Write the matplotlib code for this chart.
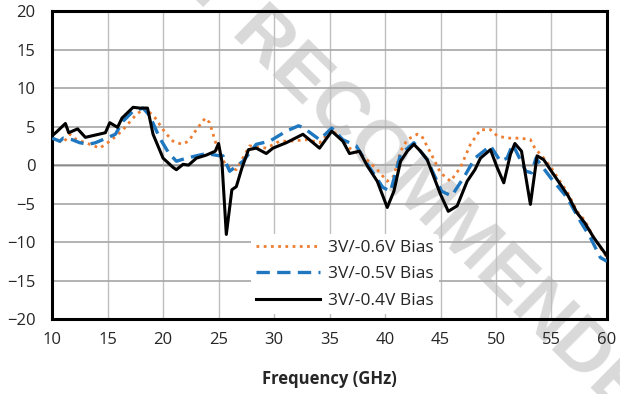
import matplotlib
matplotlib.use("Agg")
import matplotlib.pyplot as plt

# ---- data ----
f_06 = [10, 11, 11.6, 12.2, 13.4, 14.3, 15.2, 15.8, 16.4, 17.6, 18.4, 19.3, 20.2, 20.9, 21.7, 22.3, 23.0,
        23.8, 24.2, 24.7, 25.1, 25.7, 26.6, 27.8, 29.3, 30.5, 31.4, 33.0, 34.1, 35.2, 36.8, 38.0, 39.3,
        40.2, 40.8, 41.4, 42.0, 42.9, 43.3, 44.1, 45.0, 45.9, 46.8, 47.7, 48.6, 49.5, 50.1, 51.0, 51.9,
        52.2, 53.1, 53.5, 54.3, 55.0, 55.8, 56.5, 57.3, 58.0, 58.8, 60.0]
v_06 = [3.5, 2.9, 4.0, 3.3, 2.7, 2.2, 3.1, 3.8, 4.6, 6.6, 7.4, 6.1, 4.2, 3.1, 2.7, 3.1, 4.6,
        6.1, 5.5, 3.1, 1.4, -0.1, -0.6, 2.5, 2.2, 3.1, 3.1, 3.3, 2.9, 4.6, 2.2, 1.2, -0.6,
        -2.1, -1.4, 1.8, 3.3, 4.0, 3.8, 1.6, -1.0, -2.1, -0.3, 2.7, 4.6, 4.6, 3.8, 3.5, 3.5,
        3.5, 3.3, 2.2, 0.9, -0.4, -2.2, -3.7, -6.0, -7.2, -9.4, -12.0]

f_05 = [10, 10.7, 11.0, 11.8, 12.5, 13.3, 13.9, 14.9, 15.7, 16.4, 17.3, 18.2, 18.8, 19.7, 20.5, 21.2,
        22.1, 23.0, 23.9, 25.1, 25.4, 26.0, 27.2, 28.4, 29.6, 31.1, 32.2, 32.6, 34.1, 35.2, 36.2, 37.4,
        38.6, 39.8, 40.5, 41.4, 42.6, 43.8, 45.1, 46.0, 47.1, 48.1, 49.5, 50.4, 51.0, 51.5, 52.7, 53.2,
        53.6, 54.9, 56.4, 57.6, 58.5, 59.4, 60.0]
v_05 = [3.5, 3.1, 3.5, 3.3, 2.9, 2.7, 2.9, 3.5, 4.0, 5.7, 7.0, 7.4, 6.4, 3.5, 1.6, 0.5,
        0.9, 1.2, 1.5, 1.2, 1.2, -0.8, 0.5, 2.7, 3.1, 4.4, 5.1, 4.9, 3.3, 4.8, 3.3, 2.5,
        -0.3, -2.9, -3.4, 1.4, 2.9, 0.7, -3.4, -4.0, -1.6, 0.9, 2.5, 0.5, 0.9, 2.7, -0.8, -1.0,
        0.9, -1.6, -4.2, -7.3, -9.4, -12.0, -12.5]

f_04 = [10, 10.4, 11.2, 11.5, 12.3, 13.0, 14.8, 15.2, 15.9, 16.3, 17.3, 17.9, 18.6, 19.1, 20.0, 20.9,
        21.2, 21.8, 22.3, 23.0, 23.9, 24.7, 25.0, 25.3, 25.7, 26.2, 26.6, 27.1, 27.7, 28.4, 29.3, 29.9,
        31.1, 32.6, 34.1, 35.2, 36.2, 36.8, 37.7, 38.4, 39.3, 40.2, 40.8, 41.4, 42.0, 42.6, 43.2, 43.8,
        45.0, 45.7, 46.5, 47.4, 48.1, 48.6, 49.5, 50.1, 50.7, 51.3, 51.7, 52.3, 53.1, 53.7, 54.3, 54.9,
        55.8, 56.5, 57.3, 58.0, 58.8, 60.0]
v_04 = [3.8, 4.3, 5.4, 4.2, 4.7, 3.6, 4.2, 5.5, 4.9, 6.1, 7.5, 7.4, 7.4, 4.0, 0.9, -0.3,
        -0.6, 0.1, 0.0, 0.9, 1.3, 1.8, 2.8, 0.5, -9.0, -3.2, -2.8, -0.4, 2.0, 2.2, 1.5, 2.2,
        2.9, 4.0, 2.2, 4.4, 3.1, 1.5, 1.8, -0.1, -2.1, -5.5, -3.4, 0.5, 1.8, 2.7, 1.8, 0.7,
        -3.8, -6.0, -5.3, -2.1, -0.6, 0.9, 2.0, -0.3, -2.3, 1.4, 2.8, 1.8, -5.1, 1.2, 0.7, -0.6,
        -2.5, -4.0, -6.2, -7.5, -9.4, -11.8]

labels = ["3V/-0.6V Bias", "3V/-0.5V Bias", "3V/-0.4V Bias"]
x_ticks = [10, 15, 20, 25, 30, 35, 40, 45, 50, 55, 60]
y_ticks = [-20, -15, -10, -5, 0, 5, 10, 15, 20]
x_label = "Frequency (GHz)"
watermark = "NOT RECOMMENDED"

FONT = ["Open Sans", "DejaVu Sans"]
plt.rcParams["font.family"] = FONT

fig = plt.figure(figsize=(6.2, 3.94), dpi=100)
ax = fig.add_axes([0.084, 0.190, 0.895, 0.782])

ax.set_xlim(10, 60)
ax.set_ylim(-20, 20)
ax.set_xticks(x_ticks)
ax.set_yticks(y_ticks)
ax.tick_params(length=0, labelsize=12, colors="#262626")
ax.tick_params(axis="x", pad=9)
ax.tick_params(axis="y", pad=12)
ax.grid(axis="y", color="#a6a6a6", linewidth=1.2, zorder=0)
ax.grid(axis="x", color="#bfbfbf", linewidth=1.0, zorder=0)
ax.axhline(0, color="black", linewidth=1.0, zorder=1)
for s in ax.spines.values():
    s.set_linewidth(2.2)
    s.set_color("black")

ax.text(0.637, 0.572, watermark, transform=fig.transFigure, rotation=-44.5,
        ha="center", va="center", fontsize=54, fontweight="bold",
        color="#d9d9d9", family="Liberation Sans", zorder=1.5, clip_on=False)

ax.plot(f_06, v_06, color="#ED7D31", linestyle=(0, (1, 1.6)), linewidth=2.0,
        label=labels[0], zorder=3)
ax.plot(f_05, v_05, color="#1F77C0", linestyle=(0, (4, 2.2)), linewidth=2.4,
        label=labels[1], zorder=4)
ax.plot(f_04, v_04, color="black", linewidth=2.2, label=labels[2], zorder=5)

leg = ax.legend(loc="lower left", bbox_to_anchor=(0.352, 0.005), frameon=True,
                fontsize=12.5, handlelength=3.7, handletextpad=0.45,
                labelspacing=0.6, borderaxespad=0.2, borderpad=0.3)
leg.get_frame().set_facecolor("white")
leg.get_frame().set_edgecolor("none")
leg.get_frame().set_alpha(1.0)
leg.set_zorder(6)
for t in leg.get_texts():
    t.set_color("#262626")

ax.set_xlabel(x_label, fontsize=12, fontweight="bold", labelpad=16, color="#262626")

fig.savefig("out.png", dpi=100)
